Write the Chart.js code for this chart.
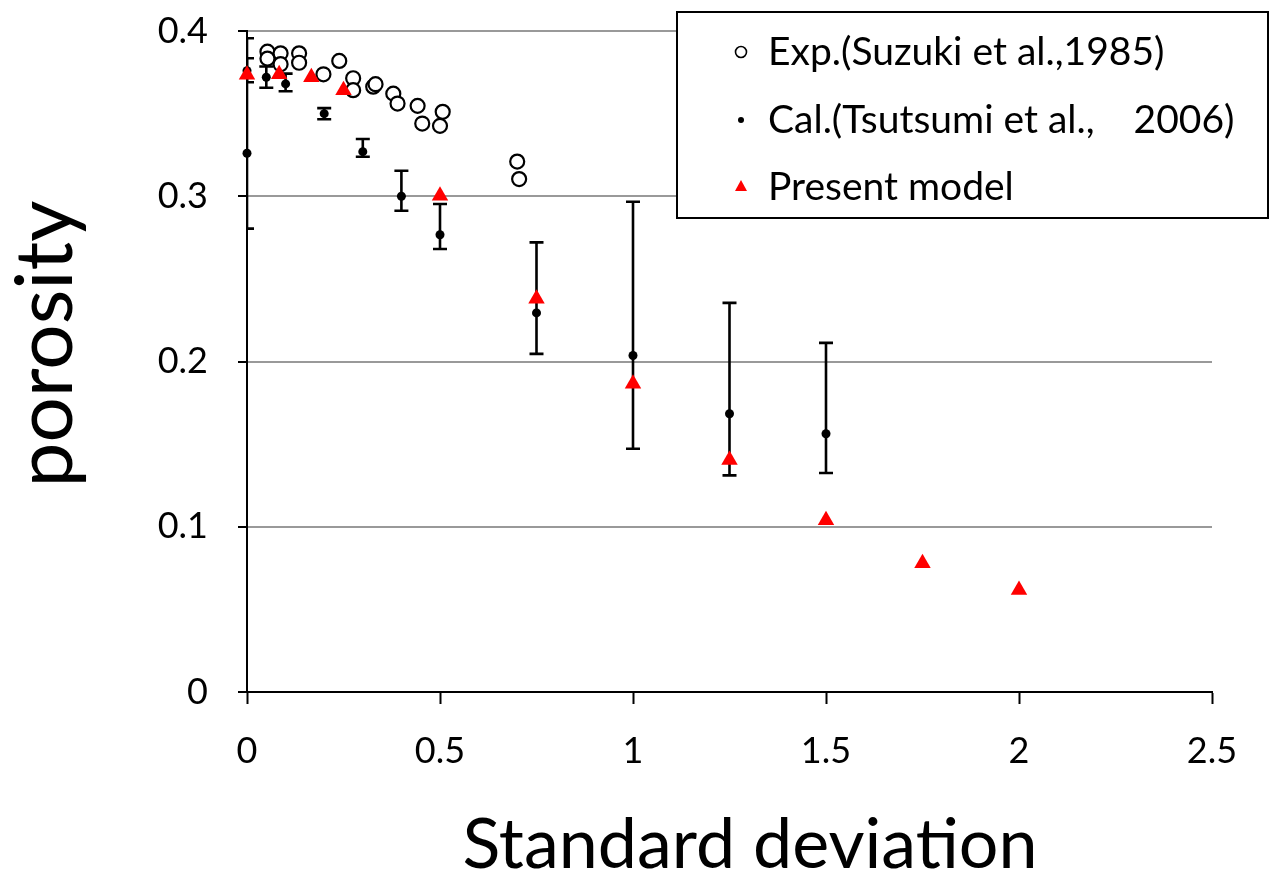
<!DOCTYPE html>
<html>
<head>
    <meta charset="utf-8"/>
    <title>porosity vs standard deviation</title>
    <script src="https://cdn.jsdelivr.net/npm/chart.js"></script>
    <style>
        html, body { margin: 0; padding: 0; background: #fff; }
        #chart-container { width: 1274px; height: 874px; }
    </style>
</head>
<body>
    <div id="chart-container">
        <canvas id="porosityChart" width="1274" height="874"></canvas>
    </div>

    <script>
        // Exp.(Suzuki et al., 1985)
        const expX = [0.053, 0.053, 0.087, 0.087, 0.135, 0.135, 0.198, 0.239, 0.275, 0.275,
                      0.327, 0.333, 0.379, 0.390, 0.442, 0.454, 0.507, 0.500, 0.700, 0.705];
        const expY = [0.3875, 0.3833, 0.3865, 0.3799, 0.3865, 0.3808, 0.3738, 0.3819, 0.3714, 0.3642,
                      0.3663, 0.3678, 0.3621, 0.3561, 0.3547, 0.3440, 0.3511, 0.3426, 0.3210, 0.3104];

        // Cal.(Tsutsumi et al., 2006) with error bar ends
        const calX  = [0, 0, 0.05, 0.1, 0.2, 0.3, 0.4, 0.5, 0.75, 1.0, 1.25, 1.5];
        const calY  = [0.326, 0.376, 0.372, 0.368, 0.350, 0.327, 0.300, 0.2767, 0.2294, 0.2036, 0.1684, 0.1563];
        const calLo = [0.2804, 0.369, 0.3657, 0.3635, 0.3466, 0.3239, 0.2912, 0.2681, 0.2046, 0.1472, 0.1311, 0.1325];
        const calHi = [0.3956, 0.3835, 0.3785, 0.3742, 0.3533, 0.3346, 0.3154, 0.2953, 0.2721, 0.2967, 0.2355, 0.2113];

        // Present model
        const modelX = [0, 1 / 12, 1 / 6, 0.25, 0.5, 0.75, 1, 1.25, 1.5, 1.75, 2];
        const modelY = [0.3736, 0.3738, 0.372, 0.3642, 0.3003, 0.238, 0.1865, 0.1404, 0.1039, 0.0779, 0.0618];

        // axis ticks
        const xTicks = [0, 0.5, 1, 1.5, 2, 2.5];
        const xTickLabels = ['0', '0.5', '1', '1.5', '2', '2.5'];
        const yTicks = [0, 0.1, 0.2, 0.3, 0.4];
        const yTickLabels = ['0', '0.1', '0.2', '0.3', '0.4'];

        const legendLabels = ['Exp.(Suzuki et al.,1985)', 'Cal.(Tsutsumi et al.,\u30002006)', 'Present model'];

        const FONT = 'Lato, "Open Sans", sans-serif';

        function toPoints(xs, ys) {
            return xs.map((x, i) => ({ x: x, y: ys[i] }));
        }

        function tickLabel(values, labels) {
            return function (value) {
                const i = values.findIndex(v => Math.abs(v - value) < 1e-9);
                return i >= 0 ? labels[i] : '';
            };
        }

        // error bars for the Cal. series, under the markers
        const errorBars = {
            id: 'errorBars',
            beforeDatasetsDraw(chart) {
                const ctx = chart.ctx;
                const xs = chart.scales.x, ys = chart.scales.y;
                const area = chart.chartArea;
                ctx.save();
                ctx.beginPath();
                ctx.rect(area.left, area.top - 2, area.right - area.left, area.bottom - area.top + 4);
                ctx.clip();
                ctx.strokeStyle = '#000';
                ctx.lineWidth = 2.6;
                calX.forEach((x, i) => {
                    const px = xs.getPixelForValue(x);
                    const top = ys.getPixelForValue(calHi[i]);
                    const bot = ys.getPixelForValue(calLo[i]);
                    ctx.beginPath();
                    ctx.moveTo(px, top); ctx.lineTo(px, bot);
                    ctx.moveTo(px - 7, top); ctx.lineTo(px + 7, top);
                    ctx.moveTo(px - 7, bot); ctx.lineTo(px + 7, bot);
                    ctx.stroke();
                });
                ctx.restore();
            }
        };

        // axis titles and boxed legend
        const decorations = {
            id: 'decorations',
            afterDraw(chart) {
                const ctx = chart.ctx;
                ctx.save();
                ctx.fillStyle = '#000';
                ctx.textAlign = 'center';
                ctx.textBaseline = 'middle';
                ctx.font = '70px ' + FONT;
                ctx.fillText('Standard deviation', 750, 845);

                ctx.save();
                ctx.translate(46, 344);
                ctx.rotate(-Math.PI / 2);
                ctx.font = '80px ' + FONT;
                ctx.fillText('porosity', 0, 0);
                ctx.restore();

                // legend box
                ctx.fillStyle = '#fff';
                ctx.fillRect(677, 12, 591, 206);
                ctx.strokeStyle = '#000';
                ctx.lineWidth = 2;
                ctx.strokeRect(677, 12, 591, 206);

                const rows = [52, 120, 187];
                ctx.font = '39px ' + FONT;
                ctx.textAlign = 'left';
                rows.forEach((y, i) => {
                    ctx.beginPath();
                    if (i === 0) {
                        ctx.arc(741, y, 5.5, 0, Math.PI * 2);
                        ctx.fillStyle = '#fff';
                        ctx.fill();
                        ctx.lineWidth = 1.6;
                        ctx.strokeStyle = '#000';
                        ctx.stroke();
                    } else if (i === 1) {
                        ctx.arc(741, y, 3, 0, Math.PI * 2);
                        ctx.fillStyle = '#000';
                        ctx.fill();
                    } else {
                        ctx.moveTo(741, y - 7);
                        ctx.lineTo(747, y + 4);
                        ctx.lineTo(735, y + 4);
                        ctx.closePath();
                        ctx.fillStyle = '#ff0000';
                        ctx.fill();
                    }
                    ctx.fillStyle = '#000';
                    ctx.fillText(legendLabels[i], 768, y);
                });
                ctx.restore();
            }
        };

        const ctx = document.getElementById('porosityChart').getContext('2d');
        new Chart(ctx, {
            type: 'scatter',
            data: {
                datasets: [
                    {
                        label: legendLabels[0],
                        data: toPoints(expX, expY),
                        pointStyle: 'circle',
                        pointRadius: 7,
                        pointBackgroundColor: '#fff',
                        pointBorderColor: '#000',
                        pointBorderWidth: 2.2,
                        clip: false,
                        order: 1
                    },
                    {
                        label: legendLabels[1],
                        data: toPoints(calX, calY),
                        pointStyle: 'circle',
                        pointRadius: 4.5,
                        pointBackgroundColor: '#000',
                        pointBorderWidth: 0,
                        clip: false,
                        order: 2
                    },
                    {
                        label: legendLabels[2],
                        data: toPoints(modelX, modelY),
                        pointStyle: 'triangle',
                        pointRadius: 9.5,
                        pointBackgroundColor: '#ff0000',
                        pointBorderWidth: 0,
                        clip: false,
                        order: 0
                    }
                ]
            },
            options: {
                responsive: false,
                animation: false,
                events: [],
                layout: { padding: { left: 0, top: 31, right: 62, bottom: 0 } },
                plugins: {
                    legend: { display: false },
                    tooltip: { enabled: false }
                },
                scales: {
                    x: {
                        type: 'linear',
                        min: 0,
                        max: 2.5,
                        afterFit(scale) {
                            scale.height = 182;
                            scale.paddingLeft = 0;
                            scale.paddingRight = 0;
                        },
                        afterBuildTicks(scale) { scale.ticks = xTicks.map(v => ({ value: v })); },
                        ticks: {
                            callback: tickLabel(xTicks, xTickLabels),
                            color: '#000',
                            font: { family: FONT, size: 36 },
                            padding: 26,
                            maxRotation: 0
                        },
                        grid: {
                            drawOnChartArea: false,
                            tickLength: 12,
                            tickColor: '#000',
                            tickWidth: 2
                        },
                        border: { color: '#000', width: 2 }
                    },
                    y: {
                        type: 'linear',
                        min: 0,
                        max: 0.4,
                        afterFit(scale) {
                            scale.width = 247;
                            scale.paddingTop = 0;
                            scale.paddingBottom = 0;
                        },
                        afterBuildTicks(scale) { scale.ticks = yTicks.map(v => ({ value: v })); },
                        ticks: {
                            callback: tickLabel(yTicks, yTickLabels),
                            color: '#000',
                            font: { family: FONT, size: 36 },
                            padding: 30
                        },
                        grid: {
                            color: c => (c.tick && c.tick.value === 0) ? 'rgba(0,0,0,0)' : '#999',
                            lineWidth: 2,
                            tickLength: 9,
                            tickColor: '#000',
                            tickWidth: 2
                        },
                        border: { color: '#000', width: 2 }
                    }
                }
            },
            plugins: [errorBars, decorations]
        });
    </script>
</body>
</html>
